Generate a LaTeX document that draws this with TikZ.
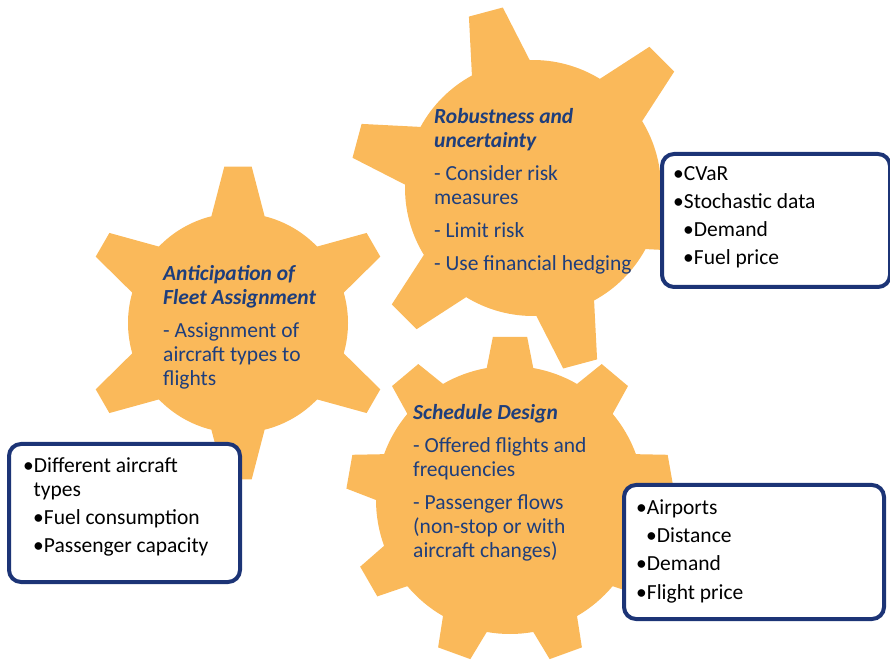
\documentclass[tikz,border=0pt]{standalone}
\usepackage{fontspec}
\setmainfont{Carlito}
\definecolor{gearorange}{RGB}{250,185,90}
\definecolor{geartextblue}{RGB}{30,62,124}
\definecolor{boxnavy}{RGB}{28,52,118}
\newcommand\gtitle[1]{\textbf{\textit{#1}}}
\newcommand\subind{\hspace*{10pt}}
\newcommand\cont{\hspace*{10.5pt}}
% gear: center, body radius, outer radius, first tooth angle, second tooth angle, last tooth angle, tip half-angle, base half-angle
\newcommand\drawgear[8]{%
  \begin{scope}[shift={#1}]
    \fill[gearfill] ({#4-#8}:#2)
      \foreach \a in {#4,#5,...,#6} {
        -- ({\a-#7}:#3) -- ({\a+#7}:#3) -- ({\a+#8}:#2)
        arc[start angle={\a+#8}, end angle={\a+(#5-#4)-#8}, radius=#2]
      } -- cycle;
  \end{scope}}
\begin{document}
\begin{tikzpicture}[x=1pt,y=1pt,
  gearfill/.style={fill=gearorange},
  geartext/.style={anchor=north west, inner sep=0pt, align=left, text=geartextblue,
    font=\fontsize{21.5}{24}\selectfont},
  infobox/.style={draw=boxnavy, line width=4pt, rounded corners=12pt, fill=white,
    anchor=north west, inner sep=0pt},
  boxtext/.style={anchor=north west, inner sep=0pt, align=left, text=black,
    font=\fontsize{21.5}{28.2}\selectfont}]
\useasboundingbox (0,0) rectangle (890,661);

% the three gears
\drawgear{(238,338)}{110}{157}{90}{150}{390}{5}{14}
\drawgear{(533,473)}{128}{183}{105}{165}{405}{5.5}{13.5}
\drawgear{(510,161)}{134}{164}{90}{130}{410}{6}{10}

% gear captions
\node[geartext] (robust) at (434,553) {\gtitle{Robustness and}\\ \gtitle{uncertainty}\\[9pt]
  - Consider risk\\ measures\\[9pt] - Limit risk\\[9pt] - Use financial hedging};
\node[geartext] (fleet) at (163,396) {\gtitle{Anticipation of}\\ \gtitle{Fleet Assignment}\\[9pt]
  - Assignment of\\ aircraft types to\\ flights};
\node[geartext] (schedule) at (413,257) {\gtitle{Schedule Design}\\[9pt]
  - Offered flights and\\ frequencies\\[9pt] - Passenger flows\\ (non-stop or with\\ aircraft changes)};

% data boxes and their lists
\node[infobox, minimum width=228pt, minimum height=133pt] (riskdata) at (660,509) {};
\node[boxtext] (risklist) at ([xshift=13pt,yshift=-14pt]riskdata.north west)
  {•CVaR\\ •Stochastic data\\ \subind•Demand\\ \subind•Fuel price};

\node[infobox, minimum width=231pt, minimum height=138pt] (fleetdata) at (7,219) {};
\node[boxtext] (fleetlist) at ([xshift=16pt,yshift=-15pt]fleetdata.north west)
  {•Different aircraft\\[-4.2pt] \cont types\\ \subind•Fuel consumption\\ \subind•Passenger capacity};

\node[infobox, minimum width=260pt, minimum height=134pt] (scheddata) at (622,178) {};
\node[boxtext] (schedlist) at ([xshift=14pt,yshift=-16.5pt]scheddata.north west)
  {•Airports\\ \subind•Distance\\ •Demand\\ •Flight price};
\end{tikzpicture}
\end{document}
